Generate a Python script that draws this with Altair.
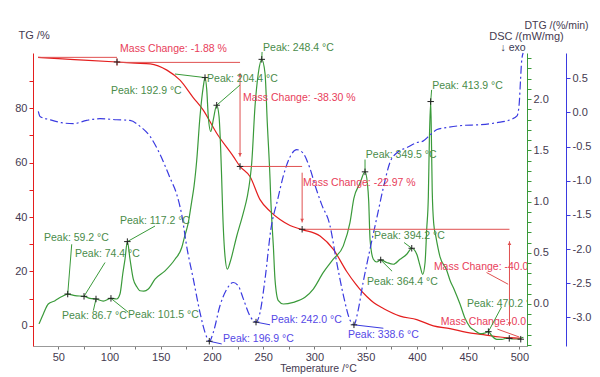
import altair as alt
import pandas as pd

# ---------------- data ----------------
# TG curve (temperature °C, mass %)
tg_T = [30.2, 50, 75, 107.3, 125, 139.7, 156.0, 168.8, 181.5, 191.3, 204.6, 220.8, 227.4,
        237.1, 246.9, 256.7, 266.4, 276.2, 287.9, 305.5, 318.5, 331.5, 340.0, 344.5, 351.1,
        358.0, 367.3, 383.6, 399.9, 416.1, 432.4, 448.7, 464.9, 481.2, 502.0]
tg_v = [98.7, 98.2, 97.7, 97.0, 96.6, 96.3, 94.0, 90.3, 84.0, 79.4, 70.8, 62.3, 58.6,
        54.9, 46.4, 42.1, 39.1, 36.9, 35.4, 33.0, 28.1, 20.0, 15.5, 13.4, 10.8,
        8.5, 6.4, 3.6, 2.3, 0.0, -1.0, -2.4, -3.2, -4.1, -4.6]

# DSC curve (temperature °C, mW/mg)
dsc_T = [31.2, 35.4, 40.2, 46.8, 53.0, 59.2, 66.3, 75.1, 80.9, 86.8, 93.9, 101.4, 107.0,
         110.2, 113.0, 115.1, 117.4, 120.0, 123.2, 126.5, 129.8, 133.5, 137.9, 144.4, 154.2,
         163.9, 170.5, 173.0, 176.9, 180.2, 182.5, 185.1, 188.3, 191.5, 193.2, 194.9, 196.4,
         198.8, 201.3, 204.6, 206.9, 208.5, 209.5, 210.5, 212.7, 215.0, 217.6, 224.2, 230.6,
         234.5, 237.1, 238.8, 242.0, 245.2, 248.6, 251.8, 254.0, 256.7, 257.5, 258.8, 259.9,
         261.5, 264.8, 269.6, 279.4, 290.8, 298.9, 308.7, 318.4, 328.2, 334.7, 338.5, 344.5,
         349.4, 351.7, 353.0, 354.3, 357.5, 360.8, 364.7, 370.6, 377.1, 383.6, 390.1, 395.0,
         399.9, 403.1, 405.7, 408.0, 409.6, 411.2, 412.2, 413.5, 414.3, 415.0, 416.5, 418.5,
         422.6, 429.1, 432.4, 436.5, 442.1, 447.0, 451.9, 456.7, 461.6, 466.0, 469.8, 473.1,
         478.0, 483.0, 487.7, 492.5, 497.5, 504.0]
dsc_v = [-0.194, -0.097, 0.0, 0.032, 0.07, 0.097, 0.081, 0.075, 0.055, 0.049, 0.029, 0.055, 0.049,
         0.097, 0.30, 0.437, 0.609, 0.437, 0.243, 0.17, 0.129, 0.125, 0.146, 0.243, 0.324,
         0.437, 0.551, 0.648, 0.794, 1.0, 1.15, 1.40, 1.83, 2.12, 2.21, 2.09, 1.83,
         1.684, 1.80, 1.94, 1.83, 1.51, 1.215, 0.89, 0.469, 0.34, 0.405, 0.664, 0.89,
         1.05, 1.215, 1.377, 1.927, 2.25, 2.388, 2.25, 1.766, 1.215, 1.0, 0.75, 0.567,
         0.243, 0.032, 0.0, 0.016, 0.065, 0.146, 0.308, 0.437, 0.567, 0.794, 1.03, 1.18,
         1.29, 1.18, 1.0, 0.63, 0.437, 0.41, 0.43, 0.405, 0.388, 0.437, 0.486, 0.544,
         0.486, 0.372, 0.29, 0.405, 0.73, 1.05, 1.6, 1.976, 1.55, 1.1, 0.78, 0.66,
         0.46, 0.33, 0.23, 0.14, 0.0, -0.14, -0.225, -0.26, -0.29, -0.285, -0.27, -0.31,
         -0.345, -0.345, -0.333, -0.34, -0.34, -0.325]

# DTG curve (temperature °C, %/min)
dtg_T = [30.5, 32.1, 41.9, 53.0, 64.6, 77.7, 90.7, 107.0, 120.0, 129.8, 139.5, 149.3, 159.1,
         165.6, 170.5, 175.3, 181.8, 188.3, 193.2, 197.4, 201.3, 207.8, 214.4, 220.8, 225.7,
         230.6, 237.1, 243.0, 246.9, 251.8, 257.5, 264.2, 270.0, 275.9, 282.7, 288.6, 295.4,
         301.3, 307.1, 314.9, 321.8, 328.6, 334.7, 338.6, 342.5, 347.4, 354.3, 362.1, 367.9,
         373.8, 380.6, 390.4, 400.2, 406.0, 412.9, 419.7, 429.5, 445.1, 461.7, 478.3, 491.0,
         497.8, 499.8, 501.2, 502.2, 503.7]
dtg_v = [0.015, -0.058, -0.107, -0.15, -0.165, -0.117, -0.092, -0.107, -0.117, -0.204, -0.35, -0.615, -0.96,
         -1.2, -1.5, -1.96, -2.44, -2.93, -3.22, -3.35, -3.22, -2.83, -2.59, -2.49, -2.54,
         -2.73, -2.98, -3.07, -2.93, -2.44, -1.71, -1.27, -0.91, -0.66, -0.545, -0.59, -0.81,
         -1.10, -1.35, -1.64, -2.20, -2.70, -3.04, -3.11, -2.91, -2.50, -2.00, -1.46, -1.06,
         -0.73, -0.59, -0.515, -0.44, -0.42, -0.33, -0.25, -0.22, -0.19, -0.18, -0.15, -0.107,
         -0.05, 0.11, 0.48, 0.74, 0.87]

# DSC peak annotations
dsc_lab_text = ["Peak: 192.9 °C", "Peak: 204.4 °C", "Peak: 248.4 °C", "Peak: 413.9 °C",
                "Peak: 349.5 °C", "Peak: 117.2 °C", "Peak: 59.2 °C", "Peak: 74.4 °C",
                "Peak: 86.7 °C", "Peak: 101.5 °C", "Peak: 394.2 °C", "Peak: 364.4 °C"]
dsc_lab_T = [101.4, 195.2, 249.9, 414.9, 350.2, 110.2, 36.0, 66.3, 53.6, 118.1, 358.2, 351.4]
dsc_lab_v = [2.08, 2.196, 2.498, 2.128, 1.458, 0.807, 0.641, 0.486, -0.117, -0.107, 0.661, 0.214]
dsc_clip_text = ["Peak: 470.2 °C"]
dsc_clip_T = [448.9]
dsc_clip_v = [0.0]
dsc_peak_T = [193.2, 204.6, 248.6, 413.5, 349.4, 117.4, 59.2, 75.1, 86.8, 101.4, 395.0, 364.7, 469.8]
dsc_peak_v = [2.21, 1.94, 2.388, 1.976, 1.29, 0.609, 0.097, 0.075, 0.049, 0.055, 0.544, 0.43, -0.27]
dsc_lead_T1 = [163.9, 227.4, 248.6, 413.5, 349.4, 144.4, 63.1, 95.6, 84.2, 118.3, 387.5, 375.8, 482.6]
dsc_lead_v1 = [2.245, 2.138, 2.388, 1.976, 1.29, 0.761, 0.583, 0.405, -0.065, -0.081, 0.60, 0.32, -0.03]
dsc_lead_T2 = [193.2, 204.6, 248.9, 414.4, 349.4, 117.4, 59.2, 75.1, 86.8, 101.4, 395.0, 364.7, 469.8]
dsc_lead_v2 = [2.21, 1.94, 2.46, 2.09, 1.41, 0.609, 0.097, 0.075, 0.049, 0.055, 0.544, 0.43, -0.27]

# DTG peak annotations
dtg_lab_text = ["Peak: 196.9 °C", "Peak: 242.0 °C", "Peak: 338.6 °C"]
dtg_lab_T = [210.8, 257.6, 332.8]
dtg_lab_v = [-3.318, -3.04, -3.26]
dtg_peak_T = [197.4, 243.0, 338.6]
dtg_peak_v = [-3.35, -3.07, -3.11]
dtg_lead_T2 = [209.5, 256.7, 367.3]
dtg_lead_v2 = [-3.39, -3.11, -3.16]

# TG mass change annotations
tg_lab_text = ["Mass Change: -1.88 %", "Mass Change: -38.30 %", "Mass Change: -22.97 %"]
tg_lab_T = [110.3, 230.3, 288.9]
tg_lab_v = [101.7, 83.8, 52.6]
tg_clip_text = ["Mass Change: -40.0 %", "Mass Change: 0.0 %"]
tg_clip_T = [416.6, 423.4]
tg_clip_v = [21.5, 1.4]
tg_rule_T1 = [30.2, 107.3, 107.3, 227.4, 227.4, 288.0, 288.0, 490.4, 468.0, 478.6, 490.2]
tg_rule_v1 = [98.7, 98.4, 96.85, 92.9, 58.6, 56.3, 35.5, 31.1, 19.6, -1.2, -4.6]
tg_rule_T2 = [107.3, 107.3, 227.4, 227.4, 288.0, 288.0, 490.4, 490.4, 489.1, 500.0, 501.4]
tg_rule_v2 = [98.7, 95.6, 96.85, 62.2, 58.6, 38.0, 35.5, 0.0, 15.3, -4.1, -4.8]
tg_arrow_dn_T = [227.4, 288.0, 490.4]
tg_arrow_dn_v = [62.2, 38.0, 0.0]
tg_arrow_up_T = [227.4, 490.4]
tg_arrow_up_v = [92.9, 31.1]
tg_cross_T = [107.3, 227.4, 288.0, 490.2, 501.4]
tg_cross_v = [97.0, 58.6, 35.5, -4.6, -4.9]
exo_text = ["↓ exo"]
exo_T = [481.7]
exo_v = [102.1]

# ---------------- styling ----------------
FONT = "Liberation Sans"
RED = "#e41e1e"
RED_TXT = "#e8405a"
RED_LINE = "#e05050"
GREEN = "#3a9a3a"
GREEN_TXT = "#4a8c4a"
BLUE = "#3a3ae0"
BLUE_TXT = "#5548e6"
LAB = "#453a50"
CROSS = "M-1,0L1,0M0,-1L0,1"

TG_DOM = [-7.4, 100.3]
DSC_DOM = [-0.41, 2.45]
DTG_DOM = [-3.42, 0.87]


def xs():
    return alt.Scale(domain=[25.3, 507.5], nice=False, zero=False)


def ys(dom):
    return alt.Scale(domain=dom, nice=False, zero=False)


def make_x_axis():
    return alt.Axis(orient="bottom", values=list(range(50, 501, 25)),
                    labelExpr="datum.value % 50 == 0 ? datum.label : ''",
                    title="Temperature /°C", titleX=285, titleY=22, titleBaseline="middle",
                    titleFontWeight="normal", titleFontSize=10.5, titleColor=LAB,
                    domainColor="#999999", tickColor="#777777", tickSize=3,
                    labelColor=LAB, labelFontSize=11, grid=False)


tg_axis = alt.Axis(orient="left", values=list(range(0, 91, 10)),
                   labelExpr="datum.value % 20 == 0 ? datum.label : ''",
                   title="TG /%", titleAngle=0, titleX=-15, titleY=-18, titleAlign="left",
                   titleBaseline="middle", titleFontWeight="normal", titleFontSize=11,
                   titleColor=LAB, domainColor=RED, tickColor=RED, tickSize=4,
                   labelColor=LAB, labelFontSize=11, grid=False)
dsc_vals = [round(-0.4 + 0.1 * i, 1) for i in range(29)]
dsc_axis = alt.Axis(orient="right", values=dsc_vals,
                    labelExpr="abs(datum.value*2 - round(datum.value*2)) < 0.001 ? format(datum.value, '.1f') : ''",
                    title="DSC /(mW/mg)", titleAngle=0, titleX=-1, titleY=-17, titleAlign="center",
                    titleBaseline="middle", titleFontWeight="normal", titleFontSize=11,
                    titleColor=LAB, domainColor=GREEN, tickColor=GREEN, tickSize=4,
                    labelColor=LAB, labelFontSize=11, grid=False)
dtg_vals = [-3.0, -2.5, -2.0, -1.5, -1.0, -0.5, 0.0, 0.5]
dtg_axis = alt.Axis(orient="right", offset=39, values=dtg_vals,
                    labelExpr="(datum.value < 0 ? '-' : '') + format(abs(datum.value), '.1f')",
                    title="DTG /(%/min)", titleAngle=0, titleX=-10, titleY=-28, titleAlign="center",
                    titleBaseline="middle", titleFontWeight="normal", titleFontSize=10.5,
                    titleColor=LAB, domainColor=BLUE, tickColor=BLUE, tickSize=4,
                    labelColor=LAB, labelFontSize=11, grid=False)


def X():
    # the shared x axis is given identically in every layer so that it merges cleanly
    return alt.X("T:Q", scale=xs(), axis=make_x_axis())


def Y(dom):
    return alt.Y("v:Q", scale=ys(dom), axis=None)


def text_layer(texts, Ts, vs, dom, color, clip=False):
    df = pd.DataFrame({"T": Ts, "v": vs, "label": texts})
    return alt.Chart(df).mark_text(align="left", baseline="middle", font=FONT, fontSize=10.5,
                                   color=color, clip=clip).encode(
        x=X(), y=Y(dom), text="label:N")


def cross_layer(Ts, vs, dom):
    df = pd.DataFrame({"T": Ts, "v": vs})
    return alt.Chart(df).mark_point(shape=CROSS, size=42, stroke="#222222", strokeWidth=1,
                                    filled=False, opacity=1).encode(x=X(), y=Y(dom))


def rule_layer(T1, v1, T2, v2, dom, color):
    df = pd.DataFrame({"T": T1, "v": v1, "T2": T2, "v2": v2})
    return alt.Chart(df).mark_rule(color=color, strokeWidth=1).encode(
        x=X(), y=Y(dom), x2="T2:Q", y2="v2:Q")


def tri_layer(Ts, vs, dom, shape, yoff):
    df = pd.DataFrame({"T": Ts, "v": vs})
    return alt.Chart(df).mark_point(shape=shape, size=14, filled=True, color=RED_LINE,
                                    opacity=1, yOffset=yoff).encode(x=X(), y=Y(dom))


# ---------------- main curves (carry the y axes) ----------------
tg_line = alt.Chart(pd.DataFrame({"T": tg_T, "v": tg_v})).mark_line(
    color=RED, strokeWidth=1.2, interpolate="monotone").encode(
    x=X(), y=alt.Y("v:Q", scale=ys(TG_DOM), axis=tg_axis))
dsc_line = alt.Chart(pd.DataFrame({"T": dsc_T, "v": dsc_v})).mark_line(
    color=GREEN, strokeWidth=1.2, interpolate="monotone").encode(
    x=X(), y=alt.Y("v:Q", scale=ys(DSC_DOM), axis=dsc_axis))
dtg_line = alt.Chart(pd.DataFrame({"T": dtg_T, "v": dtg_v})).mark_line(
    color=BLUE, strokeWidth=1.2, strokeDash=[8, 3, 2, 3], interpolate="monotone").encode(
    x=X(), y=alt.Y("v:Q", scale=ys(DTG_DOM), axis=dtg_axis))

layers = [
    tg_line, dsc_line, dtg_line,
    # TG annotations
    rule_layer(tg_rule_T1, tg_rule_v1, tg_rule_T2, tg_rule_v2, TG_DOM, RED_LINE),
    tri_layer(tg_arrow_dn_T, tg_arrow_dn_v, TG_DOM, "triangle-down", -2),
    tri_layer(tg_arrow_up_T, tg_arrow_up_v, TG_DOM, "triangle-up", 2),
    cross_layer(tg_cross_T, tg_cross_v, TG_DOM),
    text_layer(tg_lab_text, tg_lab_T, tg_lab_v, TG_DOM, RED_TXT),
    text_layer(tg_clip_text, tg_clip_T, tg_clip_v, TG_DOM, RED_TXT, clip=True),
    text_layer(exo_text, exo_T, exo_v, TG_DOM, "#3a3a55"),
    # DSC annotations
    rule_layer(dsc_lead_T1, dsc_lead_v1, dsc_lead_T2, dsc_lead_v2, DSC_DOM, GREEN),
    cross_layer(dsc_peak_T, dsc_peak_v, DSC_DOM),
    text_layer(dsc_lab_text, dsc_lab_T, dsc_lab_v, DSC_DOM, GREEN_TXT),
    text_layer(dsc_clip_text, dsc_clip_T, dsc_clip_v, DSC_DOM, GREEN_TXT, clip=True),
    # DTG annotations
    rule_layer(dtg_peak_T, dtg_peak_v, dtg_lead_T2, dtg_lead_v2, DTG_DOM, BLUE),
    cross_layer(dtg_peak_T, dtg_peak_v, DTG_DOM),
    text_layer(dtg_lab_text, dtg_lab_T, dtg_lab_v, DTG_DOM, BLUE_TXT),
]

chart = alt.layer(*layers).resolve_scale(
    y="independent").resolve_axis(y="independent").properties(
    width=494, height=293,
    padding={"left": 25, "top": 45, "right": 65, "bottom": 31},
    autosize=alt.AutoSizeParams(type="none"),
    background="white",
).configure_view(stroke="transparent").configure_axis(
    labelFont=FONT, titleFont=FONT, labelPadding=2)

chart.save("out.html", embed_options={"renderer": "svg", "actions": False})
